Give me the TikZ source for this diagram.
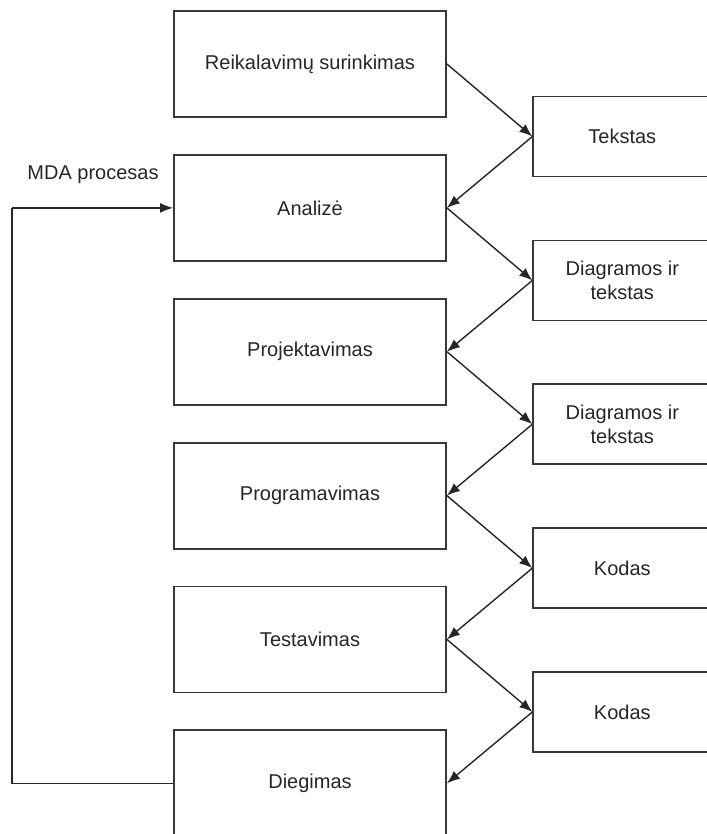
\documentclass[tikz,border=0pt]{standalone}
\usepackage{fontspec}
\setmainfont{Liberation Sans}
\usetikzlibrary{arrows.meta}
\begin{document}
\begin{tikzpicture}[x=1pt,y=-1pt,
  stage/.style={draw=black!78, line width=1.8pt, fill=white, minimum width=272pt,
    minimum height=106pt, inner sep=0pt, text=black!85,
    font=\fontsize{20}{24}\selectfont},
  artefact/.style={draw=black!78, line width=1.8pt, fill=white, minimum width=178pt,
    minimum height=80pt, inner sep=0pt, text=black!85, align=center,
    font=\fontsize{20}{24}\selectfont},
  flow/.style={draw=black!85, line width=1.4pt, -{Latex[length=13pt,width=10pt]}},
  loopline/.style={draw=black!85, line width=1.6pt}]
\useasboundingbox (0,0) rectangle (706,834);

% development stages
\node[stage] (s1) at (310,64)    {Reikalavimų surinkimas};
\node[stage] (s2) at (310,207.9) {Analizė};
\node[stage] (s3) at (310,351.7) {Projektavimas};
\node[stage] (s4) at (310,495.6) {Programavimas};
\node[stage] (s5) at (310,639.4) {Testavimas};
\node[stage] (s6) at (310,783.3) {Diegimas};

% artefacts passed between stages
\node[artefact] (a1) at (622.3,136.5) {Tekstas};
\node[artefact] (a2) at (622.3,280.4) {Diagramos ir\\tekstas};
\node[artefact] (a3) at (622.3,424.2) {Diagramos ir\\tekstas};
\node[artefact] (a4) at (622.3,568.1) {Kodas};
\node[artefact] (a5) at (622.3,711.9) {Kodas};

% stage -> artefact -> next stage
\foreach \i/\j in {1/2,2/3,3/4,4/5,5/6}{
  \draw[flow] (s\i.east) -- (a\i.west);
  \draw[flow] (a\i.west) -- (s\j.east);
}

% MDA feedback loop
\coordinate (lb) at (12,783.3);
\coordinate (lt) at (12,207.9);
\draw[loopline] (s6.west) -- (lb) -- (lt);
\draw[flow, line width=1.6pt] (lt) -- (s2.west);
\node[text=black!85, font=\fontsize{20}{24}\selectfont] (mda) at (93,175) {MDA procesas};
\end{tikzpicture}
\end{document}
